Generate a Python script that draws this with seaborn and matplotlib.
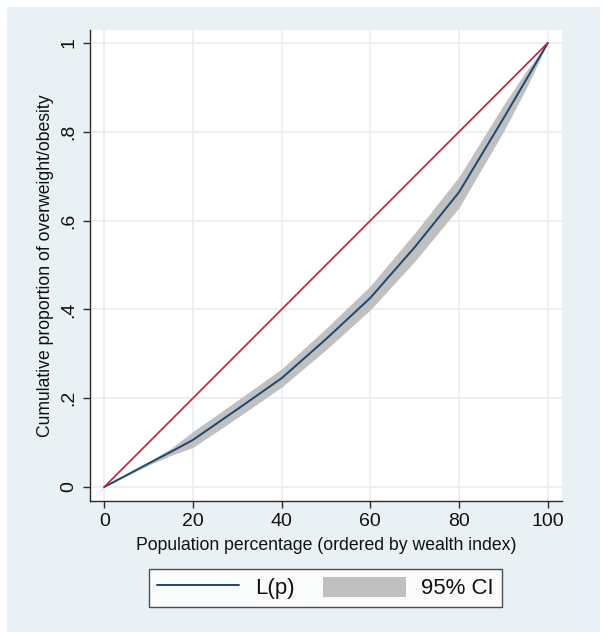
import numpy as np
import pandas as pd
import matplotlib
matplotlib.use("Agg")
import matplotlib.pyplot as plt
import seaborn as sns
from matplotlib.patches import Rectangle, Patch
from matplotlib.lines import Line2D

# ---- data ----
pop_pct = [0, 10, 15, 20, 30, 40, 50, 60, 70, 80, 90, 95, 100]
lorenz = [0, 0.053, 0.079, 0.106, 0.175, 0.245, 0.333, 0.426, 0.54, 0.664, 0.83, 0.915, 1.0]
ci_lower = [0, 0.049, 0.071, 0.089, 0.156, 0.225, 0.309, 0.399, 0.508, 0.629, 0.80, 0.895, 1.0]
ci_upper = [0, 0.057, 0.087, 0.125, 0.195, 0.266, 0.357, 0.453, 0.572, 0.699, 0.86, 0.935, 1.0]
equality_x = [0, 100]
equality_y = [0, 1]
x_ticks = [0, 20, 40, 60, 80, 100]
y_ticks = [0, 0.2, 0.4, 0.6, 0.8, 1.0]
y_tick_labels = ["0", ".2", ".4", ".6", ".8", "1"]

df = pd.DataFrame({"p": pop_pct, "L": lorenz, "lo": ci_lower, "hi": ci_upper})
eq = pd.DataFrame({"p": equality_x, "L": equality_y})

sns.set_style("white")
plt.rcParams["font.family"] = ["Liberation Sans", "DejaVu Sans"]

BG = "#eaf1f4"
GRID = "#e6eff1"
NAVY = "#1a476f"
RED = "#d8173f"
CI_GRAY = "#c0c0c0"

fig = plt.figure(figsize=(6.05, 6.32), dpi=100)
fig.patch.set_facecolor("white")
fig.patches.append(Rectangle((7 / 605, 0.0), 593 / 605, 1 - 7 / 632,
                             transform=fig.transFigure, facecolor=BG,
                             edgecolor="none", zorder=-10))

ax = fig.add_axes([90 / 605, 1 - 501 / 632, (562 - 90) / 605, (501 - 30) / 632])
ax.set_facecolor("white")

ax.fill_between(df["p"], df["lo"], df["hi"], color=CI_GRAY, linewidth=0, zorder=2)
sns.lineplot(data=df, x="p", y="L", ax=ax, color=NAVY, linewidth=1.4, zorder=3)
sns.lineplot(data=eq, x="p", y="L", ax=ax, color=RED, linewidth=1.2, zorder=4)

ax.set_xlim(-3.2, 103.2)
ax.set_ylim(-0.0315, 1.029)
ax.set_xticks(x_ticks)
ax.set_yticks(y_ticks)
ax.set_yticklabels(y_tick_labels, rotation=90, va="center")
ax.grid(True, color=GRID, linewidth=1.2)
ax.set_axisbelow(True)

for s in ["top", "right"]:
    ax.spines[s].set_visible(False)
for s in ["left", "bottom"]:
    ax.spines[s].set_color("#2b2b2b")
    ax.spines[s].set_linewidth(1.0)
ax.tick_params(axis="both", which="major", direction="out", length=5, width=1,
               color="#2b2b2b", labelsize=14, labelcolor="#111111", pad=4,
               left=True, bottom=True)

ax.set_xlabel("Population percentage (ordered by wealth index)", fontsize=12.7,
              color="#111111", labelpad=5)
ax.set_ylabel("Cumulative proportion of overweight/obesity", fontsize=12.7,
              color="#111111", labelpad=5)

handles = [Line2D([0], [0], color=NAVY, linewidth=1.4),
           Patch(facecolor=CI_GRAY, edgecolor="none")]
leg = fig.legend(handles, ["L(p)", "95% CI"], loc="center",
                 bbox_to_anchor=(325.5 / 605, 1 - 588 / 632), ncol=2,
                 fontsize=16, frameon=True, fancybox=False, handlelength=3.7,
                 handleheight=1.0, columnspacing=1.3, handletextpad=0.7,
                 borderpad=0.35, borderaxespad=0)
leg.get_frame().set_edgecolor("#222222")
leg.get_frame().set_linewidth(1.0)
leg.get_frame().set_facecolor("white")
for t in leg.get_texts():
    t.set_color("#111111")

fig.savefig("out.png", dpi=100, facecolor=fig.get_facecolor())
